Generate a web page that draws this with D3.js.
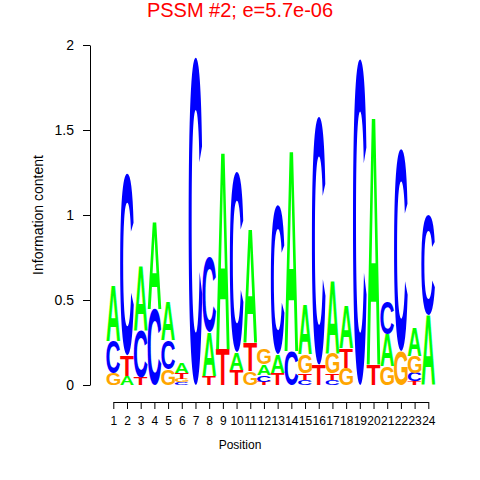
<!DOCTYPE html>
<html><head><meta charset="utf-8">
<script src="https://cdn.jsdelivr.net/npm/d3@7"></script>
<style>body{margin:0;background:#fff}svg{display:block}</style>
</head><body>
<svg id="c" width="480" height="480"></svg>
<script>
const positions = d3.range(1, 25);
const heightA = [0.33,0.055,0.38,0.52,0.23,0.06,0,0.26,1.17,0.10,0.67,0.06,0.11,1.19,0.29,0,0.43,0.25,0,1.47,0.19,0,0.17,0.41];
const heightC = [0.19,1.07,0.28,0.45,0.17,0.015,1.93,0.44,0,1.06,0,0.04,0.88,0.20,0.03,1.46,0.03,0,1.92,0,0.19,1.19,0.05,0.59];
const heightG = [0.07,0,0,0,0.094,0.02,0,0,0,0,0.08,0.09,0,0,0.11,0,0.12,0.10,0,0,0.11,0.20,0.10,0];
const heightT = [0,0.12,0.045,0,0,0.035,0,0.053,0.21,0.09,0.17,0.02,0.07,0,0.04,0.12,0.04,0.115,0,0.12,0,0,0.02,0];
const yTicks = [0, 0.5, 1, 1.5, 2];
const yTickLabels = ["0", "0.5", "1", "1.5", "2"];
const letterColors = {A: "#00ff00", C: "#0000ff", G: "#ffa500", T: "#ff0000"};
const titleText = "PSSM #2; e=5.7e-06";

const svg = d3.select("#c");
const FONT = '"Liberation Sans", Arial, Helvetica, sans-serif';

const x = d3.scaleLinear().domain([1, 24]).range([113.3, 428.3]);
const y = d3.scaleLinear().domain([0, 2]).range([385, 45]);
const colW = x(2) - x(1);

// measure glyph tight bounds
const cv = document.createElement("canvas").getContext("2d");
cv.font = 'bold 100px ' + FONT;
const metrics = {};
for (const L of ["A","C","G","T"]) {
  const m = cv.measureText(L);
  metrics[L] = {l: m.actualBoundingBoxLeft, r: m.actualBoundingBoxRight, a: m.actualBoundingBoxAscent, d: m.actualBoundingBoxDescent};
}

const cols = positions.map((p, i) => {
  const items = [
    {L: "A", h: heightA[i]}, {L: "C", h: heightC[i]},
    {L: "G", h: heightG[i]}, {L: "T", h: heightT[i]}
  ].filter(d => d.h > 0).sort((a, b) => a.h - b.h);
  let base = 0;
  items.forEach(d => { d.y0 = base; base += d.h; d.y1 = base; d.pos = p; });
  return items;
});

const g = svg.append("g");
cols.flat().forEach(d => {
  const m = metrics[d.L];
  const rx = x(d.pos) - colW / 2, ry = y(d.y1);
  const w = colW, h = y(d.y0) - y(d.y1);
  const sx = w / (m.l + m.r), sy = h / (m.a + m.d);
  g.append("text")
    .attr("transform", `translate(${rx + m.l * sx},${ry + m.a * sy}) scale(${sx},${sy})`)
    .attr("font-family", FONT).attr("font-weight", "bold").attr("font-size", 100)
    .attr("fill", letterColors[d.L])
    .text(d.L);
});

// axes
const yAxis = d3.axisLeft(y).tickValues(yTicks).tickFormat((d, i) => yTickLabels[i]).tickSize(7).tickSizeOuter(0).tickPadding(9);
const ya = svg.append("g").attr("transform", "translate(90,0)").call(yAxis);
ya.selectAll("text").attr("font-size", 14).attr("font-family", FONT).attr("fill", "#000");
ya.selectAll("line,path").attr("stroke", "#000");

const xAxis = d3.axisBottom(x).tickValues(positions).tickSize(7).tickSizeOuter(0).tickPadding(7);
const xa = svg.append("g").attr("transform", "translate(0,402)").call(xAxis);
xa.selectAll("text").attr("font-size", 12).attr("font-family", FONT).attr("fill", "#000");
xa.selectAll("line,path").attr("stroke", "#000");

svg.append("text").attr("x", 240).attr("y", 449).attr("text-anchor", "middle")
  .attr("font-family", FONT).attr("font-size", 12).text("Position");
svg.append("text").attr("transform", "translate(43,215) rotate(-90)").attr("text-anchor", "middle")
  .attr("font-family", FONT).attr("font-size", 14).text("Information content");
svg.append("text").attr("x", 240).attr("y", 17).attr("text-anchor", "middle")
  .attr("font-family", FONT).attr("font-size", 20).attr("fill", "#ff0000").text(titleText);
</script>
</body></html>
